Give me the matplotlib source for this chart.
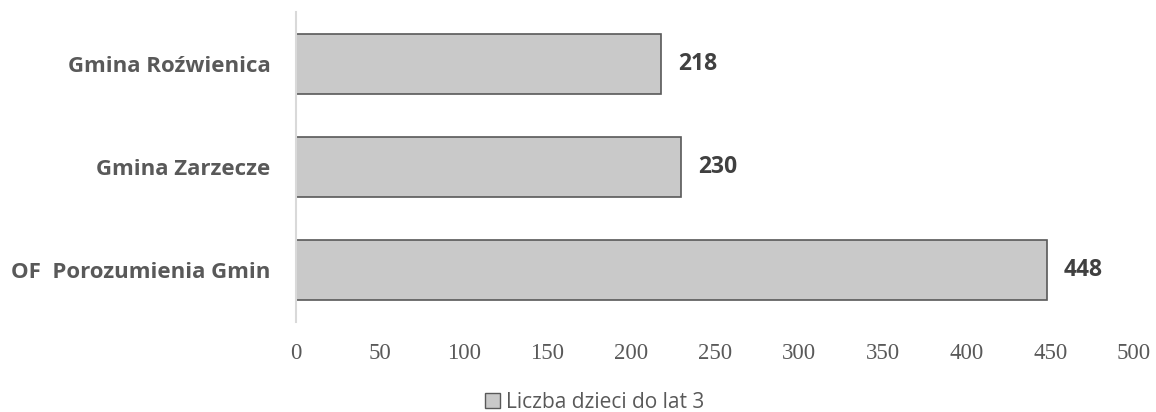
import matplotlib
matplotlib.use("Agg")
import matplotlib.pyplot as plt
from matplotlib.patches import Patch

# dane
kategorie = ["OF  Porozumienia Gmin", "Gmina Zarzecze", "Gmina Roźwienica"]
wartosci = [448, 230, 218]
seria = "Liczba dzieci do lat 3"
ticks = [0, 50, 100, 150, 200, 250, 300, 350, 400, 450, 500]

fig = plt.figure(figsize=(11.56, 4.12), dpi=100)
ax = fig.add_axes([296 / 1156, 1 - 322 / 412, (1134 - 296) / 1156, 310 / 412])

y = range(len(kategorie))
ax.barh(y, wartosci, height=0.58, color="#c9c9c9", edgecolor="#595959", linewidth=1.2)

for yi, v in zip(y, wartosci):
    ax.text(v + 10, yi, str(v), va="center", ha="left", fontsize=16.5,
            fontweight="bold", color="#404040", family="Open Sans")

ax.set_xlim(0, 500)
ax.set_ylim(-0.5, 2.5)
ax.set_xticks(ticks)
ax.set_xticklabels([str(t) for t in ticks], family="Liberation Serif", fontsize=16.5, color="#595959")
ax.set_yticks(list(y))
ax.set_yticklabels(kategorie, family="Open Sans", fontweight="bold", fontsize=16, color="#595959")
ax.tick_params(axis="x", length=0, pad=15)
ax.tick_params(axis="y", length=0, pad=18.5)

for s in ["top", "right", "bottom"]:
    ax.spines[s].set_visible(False)
ax.spines["left"].set_color("#d9d9d9")
ax.spines["left"].set_linewidth(1.5)

fig.legend(handles=[Patch(facecolor="#c9c9c9", edgecolor="#595959", label=seria)],
           loc="center", bbox_to_anchor=(595 / 1156, 1 - 402 / 412), frameon=False,
           prop={"family": "Open Sans", "size": 15}, handlelength=0.7, handleheight=0.7,
           handletextpad=0.3, labelcolor="#595959", borderpad=0)

fig.savefig("out.png", dpi=100)
